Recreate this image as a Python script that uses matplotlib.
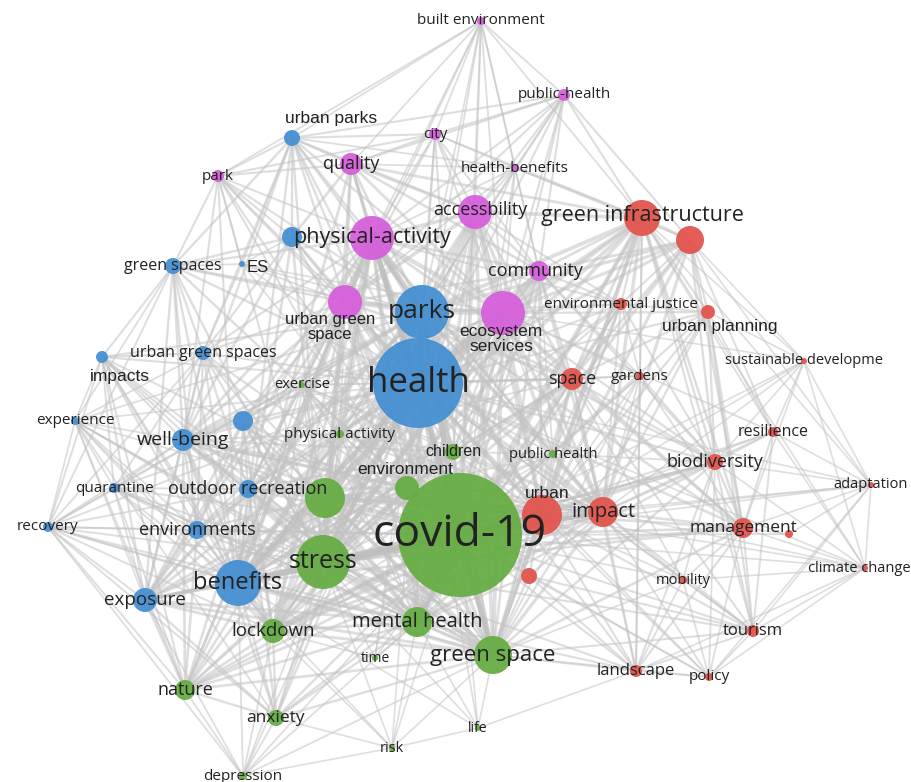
import matplotlib.pyplot as plt
from matplotlib.collections import LineCollection

# node layout (pixel coords, y down)
ids = ['be', 'ph', 'ci', 'hb', 'up', 'qu', 'pk', 'ac', 'gi', 'r1', 'pa', 'b1', 'gs', 'es', 'co',
       'ugs', 'pr', 'ecs', 'ej', 'upl', 'sd', 'he', 'im', 'ugss', 'ex', 'sp', 'ga', 'xp', 'wb',
       'b2', 'pac', 'ch', 'pbh', 're', 'bd', 'en', 'ur', 'ip', 'ad', 'qa', 'or', 'g1', 'cv',
       'mg', 'r2', 'rc', 'ens', 'st', 'bn', 'r3', 'cc', 'mo', 'xo', 'ld', 'mh', 'to', 'ti',
       'gsp', 'ls', 'po', 'na', 'an', 'li', 'ri', 'dp']
labels = ['built environment', 'public-health', 'city', 'health-benefits', 'urban parks',
          'quality', 'park', 'accessbility', 'green infrastructure', '', 'physical-activity', '',
          'green spaces', 'ES', 'community', 'urban green\nspace', 'parks', 'ecosystem\nservices',
          'environmental justice', 'urban planning', 'sustainable developme', 'health', 'impacts',
          'urban green spaces', 'exercise', 'space', 'gardens', 'experience', 'well-being', '',
          'physical activity', 'children', 'public health', 'resilience', 'biodiversity',
          'environment', 'urban', 'impact', 'adaptation', 'quarantine', 'outdoor recreation', '',
          'covid-19', 'management', '', 'recovery', 'environments', 'stress', 'benefits', '',
          'climate change', 'mobility', 'exposure', 'lockdown', 'mental health', 'tourism', 'time',
          'green space', 'landscape', 'policy', 'nature', 'anxiety', 'life', 'risk', 'depression']
x = [481, 564, 435, 515, 292, 351, 218, 475, 642, 690, 372, 292, 173, 242, 539,
     345, 422, 503, 621, 708, 804, 418, 102, 203, 302, 572, 640, 75, 183,
     243, 340, 453, 553, 773, 715, 407, 542, 603, 871, 114, 248, 325, 460,
     743, 789, 48, 197, 323, 238, 529, 865, 683, 145, 273, 417, 753, 375,
     493, 636, 709, 185, 276, 478, 392, 243]
y = [21, 95, 134, 168, 138, 164, 176, 212, 218, 240, 238, 237, 266, 264, 271,
     302, 312, 313, 304, 312, 361, 383, 357, 353, 385, 379, 376, 421, 440,
     421, 434, 452, 454, 432, 462, 488, 515, 512, 485, 488, 489, 498, 535,
     528, 534, 527, 530, 562, 583, 576, 568, 580, 600, 631, 622, 631, 658,
     655, 671, 677, 690, 718, 728, 748, 776]
radius = [4, 6, 6, 4, 8, 11, 6, 17, 18, 14, 22, 10, 8, 3, 10,
          17, 27, 22, 6, 7, 3, 45, 6, 7, 3, 11, 4, 4, 11,
          10, 4, 8, 4, 5, 8, 12, 20, 15, 3, 5, 9, 20, 62,
          10, 4, 5, 9, 27, 23, 8, 3, 4, 12, 12, 15, 6, 3,
          19, 6, 4, 10, 8, 3, 3, 4]
cluster = ['m', 'm', 'm', 'm', 'b', 'm', 'm', 'm', 'r', 'r', 'm', 'b', 'b', 'b', 'm',
           'm', 'b', 'm', 'r', 'r', 'r', 'b', 'b', 'b', 'g', 'r', 'r', 'b', 'b',
           'b', 'g', 'g', 'g', 'r', 'r', 'g', 'r', 'r', 'r', 'b', 'b', 'g', 'g',
           'r', 'r', 'b', 'b', 'g', 'b', 'r', 'r', 'r', 'b', 'g', 'g', 'r', 'g',
           'g', 'r', 'r', 'g', 'g', 'g', 'g', 'g']

links = {
    'be': 'up ci qu pa ac hb ph he cv gi pr ugs co pk ecs',
    'ph': 'ci hb ac gi r1 pa he cv pr ecs co qu ugs up',
    'ci': 'qu pa ac hb he cv pr gi ecs ugs up co pk',
    'hb': 'ac pa he cv pr gi ecs co ugs up qu r1',
    'up': 'pk qu pa b1 he cv pr ugs ecs ac gs wb st bn es ugss',
    'qu': 'pk pa he cv pr ugs ecs ac co gi st bn b1',
    'pk': 'pa he cv pr ugs gs b1 wb bn st gsp es',
    'ac': 'pa he cv pr ecs ugs gi co sp ur ej st gsp bn mh ip',
    'gi': 'r1 ecs he cv pr ej upl bd ur ip sp mg gsp ga re sd cc to ls co st bn',
    'r1': 'ecs he cv ej upl ur ip bd mg sp sd re ad pr co',
    'pa': 'b1 he cv pr ugs ecs co st bn wb ch en gsp mh ur or ld ex pac g1 ac qu up pk gs ugss ip sp',
    'b1': 'he cv pr gs es ugss wb ugs st bn',
    'gs': 'es he cv pr ugss wb bn st im xp xo rc ens ugs',
    'es': 'he cv pr ugs ecs ugss',
    'co': 'he cv pr ecs ugs ur ip sp gsp st bn mh pa ac ej ga ld ch en bd',
    'ugs': 'he cv pr ecs st bn wb mh gsp en ch ld ugss or pa ac co ip ur sp ex pac g1 b2 gs up qu',
    'pr': 'he cv ecs st bn wb mh gsp ld or ens xo na an ur ip ch en ex pac ti sp bd mg g1',
    'ecs': 'he cv st bn ur ip sp gsp bd ej mg mh ld ch en ga pa ac co ugs upl sd re gi r1 g1 or',
    'ej': 'he cv ur ip sp ga bd upl st pr pa ecs co ac bn mh gsp r1 gi',
    'upl': 'he cv ur ip sp bd sd re mg to gsp',
    'sd': 'ur ip bd re ad cc mg cv',
    'he': 'cv st bn wb mh gsp ld xo na an dp ri ti li en ch ur ip sp im ugss ex pac or ens qa xp rc bd mg ls g1 r3 pbh gs ugs b1 b2 qu up pk ac co gi r1 ej upl ga to po mo',
    'im': 'ugss wb xp rc qa xo na bn st cv ens he pr gs ld mh gsp',
    'ugss': 'cv wb bn st xo or ens mh',
    'ex': 'cv st bn mh wb ld pr ugs ecs pa ch en g1 ur ip gsp or b2 pac sp',
    'sp': 'cv ur ip bd ga mg ls mo st bn gsp mh pr pa ecs co ac ej ld ch en',
    'ga': 'cv ur ip bd mg gsp',
    'xp': 'wb rc qa xo bn st na cv ens he pr gs ugss ld mh gsp an',
    'wb': 'cv st bn mh xo ld na an or ens qa rc b2 g1 gsp pr pa ugs ecs ur ip ch en xp im ugss',
    'b2': 'cv st bn xo ld pr pa ugs gsp mh or wb ens',
    'pac': 'cv st bn mh ld gsp pr pa ugs ecs ch en g1 or wb ur ip sp co',
    'ch': 'cv st bn mh gsp ld na ur pr pa ugs ecs en g1 or ip sp co ac pbh wb xo',
    'pbh': 'cv st mh gsp ur ip pr pa ecs ch en bn ld sp co ac ga ej bd',
    're': 'bd mg cc ad ur ip cv to',
    'bd': 'cv ur ip mg ls to po mo cc ad st bn gsp',
    'en': 'cv st bn mh gsp ld ur pr pa ugs ecs ip sp co ac g1 or wb xo',
    'ur': 'cv ip gsp mh mg ls to po mo r3 st bn ld ecs ac co pa ch en g1 ej sp ga bd re upl gi r1',
    'ip': 'cv gsp mh mg ls to po mo r3 cc st bn ld ecs ac co pa ch en g1 sp bd re upl gi r1',
    'ad': 'mg cc to r2 ip ur bd re sd cv he gi po',
    'qa': 'cv st bn xo ld na rc he pr wb or ens ugss mh gsp',
    'or': 'cv st bn xo ld mh gsp na pr pa ugs ecs ur ip wb ens ugss b2',
    'g1': 'cv st bn mh gsp ld pr pa ugs ecs ur ip or wb xo ens ch',
    'cv': 'st bn mh gsp ld xo na an dp ri ti li ens mg ls to po mo r3 rc r2 cc pa ugs ecs ac co up qu pk gs es b1 b2 ugss im xp wb ex pac ch pbh en or qa sp ga ej upl bd re gi r1',
    'mg': 'to ls po cc r2 mo st bn gsp',
    'rc': 'xo na bn st ens dp pr he cv wb or qa im xp gs ugss ld mh gsp an',
    'ens': 'st bn xo ld na mh',
    'st': 'bn mh gsp ld xo na an dp ri ti li pa ugs ecs ac co wb ch en g1 or ex pac ur ip sp bd mg ls to ens ugss im',
    'bn': 'mh gsp ld xo na an dp ri li pa ecs qu ac co ch en g1 ur ip sp mg ls gi wb or ens ugss im',
    'r3': 'gsp mh ls to',
    'cc': 'to po ls ur ip bd mg re sd cv he mo',
    'mo': 'to ls po gsp',
    'xo': 'ld na an dp pr ugs pa wb or g1 ur ip ch en',
    'ld': 'mh gsp na an dp ri ti ecs pa ugs ur ip wb or en ch g1',
    'mh': 'gsp na an dp ri ti li ecs ac co en ch g1 or ugss wb xo ur ip sp gi bd',
    'to': 'ls po gsp ur ip bd mg cv he r3 sp',
    'gsp': 'na an dp ri li ls po ecs co ac ch en g1 or ugss wb xo ur ip sp mg bd',
    'ls': 'po li ur ip bd mg sp ga r3 mo',
    'po': 'ur ip bd mg cv he r3',
    'na': 'an dp pr pa ugs wb or ur ip',
    'an': 'dp ri pr wb or ur',
    'ri': 'dp li',
}
strong = ['cv he', 'cv st', 'cv gsp', 'cv mh', 'he pr', 'cv bn', 'he pa', 'cv ur',
          'he bn', 'cv ip', 'cv ld', 'he st', 'pr pa', 'he ecs', 'cv pr']

colors = {'r': '#e2554e', 'g': '#67ad45', 'b': '#4690d2', 'm': '#d660db'}
fsize = {'be': 11, 'ph': 11, 'ci': 11, 'hb': 11, 'up': 12.5, 'qu': 13, 'pk': 11, 'ac': 13,
         'gi': 15.5, 'pa': 15.5, 'gs': 11.5, 'es': 12, 'co': 13, 'ugs': 12, 'pr': 19,
         'ecs': 12.5, 'ej': 11, 'upl': 12.5, 'sd': 10.5, 'he': 25, 'im': 12.5, 'ugss': 11.5,
         'ex': 10.5, 'sp': 13, 'ga': 11, 'xp': 11, 'wb': 14, 'pac': 11, 'ch': 11.5,
         'pbh': 10.5, 're': 11.5, 'bd': 13, 'en': 12.5, 'ur': 12.5, 'ip': 14.5, 'ad': 10.5,
         'qa': 11, 'or': 13, 'cv': 32, 'mg': 12.5, 'rc': 11, 'ens': 13, 'st': 18, 'bn': 17,
         'cc': 10.5, 'mo': 10.5, 'xo': 13.5, 'ld': 13.5, 'mh': 14.5, 'to': 12, 'ti': 10,
         'gsp': 16, 'ls': 12, 'po': 11, 'na': 13, 'an': 12.5, 'li': 10, 'ri': 10.5, 'dp': 11}
arial = ['up', 'ugs', 'ecs', 'upl', 'im', 'es', 'en', 'ur', 'ch']
offset = {'up': (39, -19), 'ugs': (-15, 25), 'ecs': (-2, 26), 'upl': (12, 14),
          'im': (18, 19), 'es': (16, 4), 'en': (-2, -19), 'ur': (5, -22), 'gi': (0, -2),
          'ac': (5, -2), 'co': (-4, 0), 'cc': (-6, 0)}

W, H = 911, 782
fig = plt.figure(figsize=(W / 100, H / 100), dpi=100)
ax = fig.add_axes([0, 0, 1, 1])
ax.set_xlim(0, W)
ax.set_ylim(H, 0)
ax.axis('off')

pos = {k: (x[i], y[i]) for i, k in enumerate(ids)}
rad = {k: radius[i] for i, k in enumerate(ids)}

pairs = set()
for a, nbrs in links.items():
    for b in nbrs.split():
        if a != b:
            pairs.add(frozenset((a, b)))

segs, widths = [], []
for p in pairs:
    a, b = sorted(p)
    segs.append([pos[a], pos[b]])
    m = min(rad[a], rad[b])
    widths.append(0.9 + min(m, 25) / 10)
ax.add_collection(LineCollection(segs, colors='#c4c4c4', linewidths=widths, alpha=0.55, zorder=1))
thick = [[pos[s.split()[0]], pos[s.split()[1]]] for s in strong]
ax.add_collection(LineCollection(thick, colors='#bdbdbd', linewidths=4, alpha=0.5, zorder=1))

for i, k in enumerate(ids):
    c = plt.Circle((x[i], y[i]), radius[i], color=colors[cluster[i]], alpha=0.95, zorder=2, lw=0)
    ax.add_patch(c)

for i, k in enumerate(ids):
    if not labels[i]:
        continue
    dx, dy = offset.get(k, (0, 0))
    fam = ['Liberation Sans'] if k in arial else ['Open Sans', 'DejaVu Sans']
    ax.text(x[i] + dx, y[i] + dy, labels[i], ha='center', va='center', fontsize=fsize[k],
            family=fam, color='#222222', zorder=3, linespacing=1.05)

fig.savefig('out.png', dpi=100)
